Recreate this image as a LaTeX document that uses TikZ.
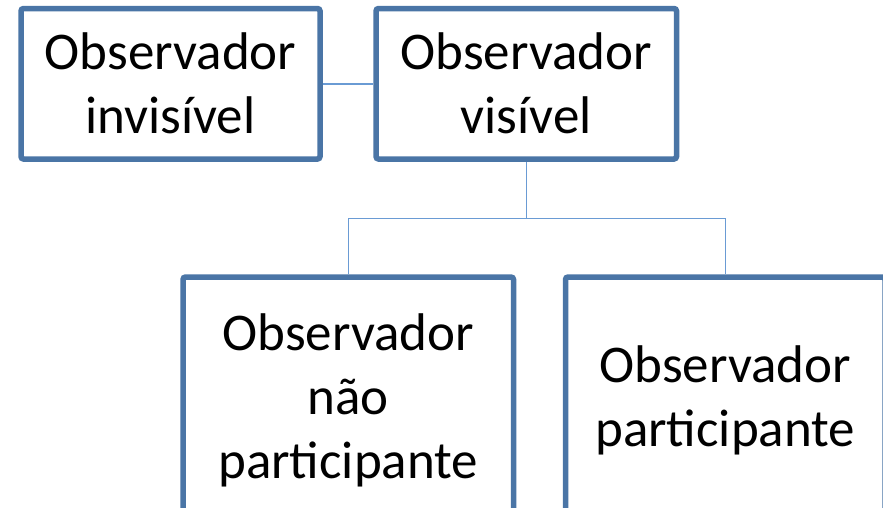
\documentclass[tikz,border=0pt]{standalone}
\usepackage{fontspec}
\setmainfont{Carlito}
\usetikzlibrary{backgrounds}
\definecolor{boxblue}{HTML}{4A75A6}
\definecolor{linkblue}{HTML}{6A9BD4}
\tikzset{
  box/.style={draw=boxblue, line width=5.5pt, fill=white, rounded corners=2.5pt,
    inner sep=0pt, align=center, font=\fontsize{53}{64}\selectfont},
  link/.style={draw=linkblue, line width=1.5pt}
}
\begin{document}
\begin{tikzpicture}[x=1pt,y=-1pt]
\useasboundingbox (0,0) rectangle (883,507);
\node[box, minimum width=299pt, minimum height=150.5pt] (inv) at (170.5,83.75) {Observador\\invisível};
\node[box, minimum width=300.5pt, minimum height=150.5pt] (vis) at (526.25,83.75) {Observador\\visível};
\node[box, minimum width=330.5pt, minimum height=246pt] (nao) at (348.25,400) {Observador\\não\\participante};
\node[box, minimum width=319.5pt, minimum height=246pt] (par) at (725.25,400) {Observador\\participante};
\coordinate (j) at (526.25,218.3);
\begin{scope}[on background layer]
\draw[link] (inv.east) -- (vis.west);
\draw[link] (vis.south) -- (j);
\draw[link] (nao.north) |- (j) -| (par.north);
\end{scope}
\end{tikzpicture}
\end{document}
